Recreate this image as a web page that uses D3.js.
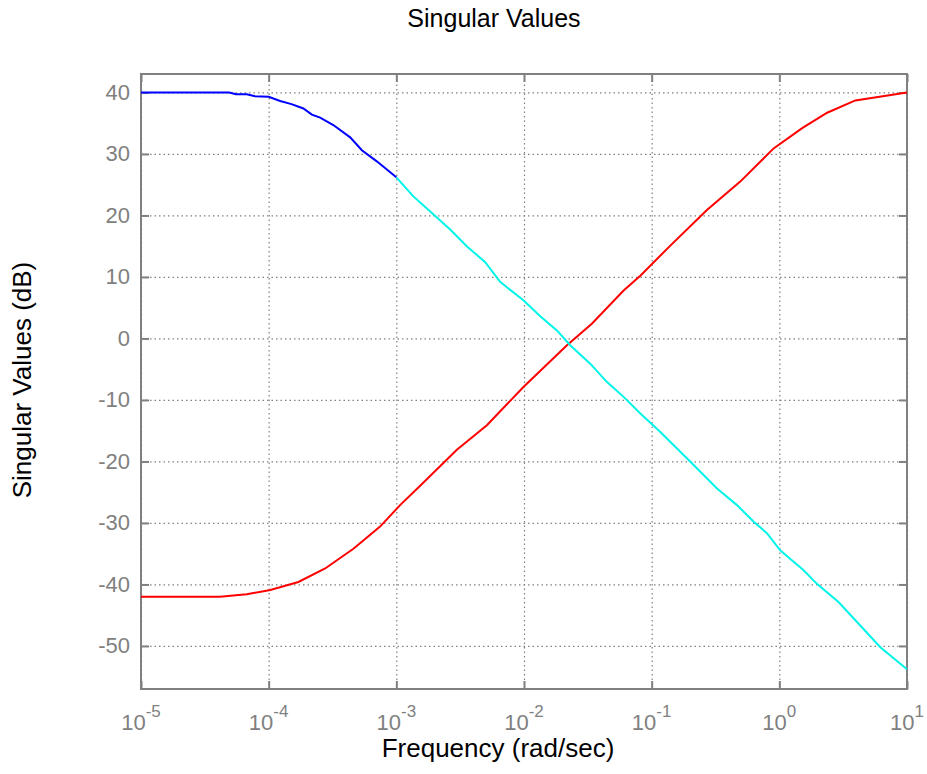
<!DOCTYPE html>
<html>
<head>
<meta charset="utf-8">
<script src="https://cdn.jsdelivr.net/npm/d3@7"></script>
<style>
  body { margin: 0; background: #fff; }
  text { font-family: "Liberation Sans", Arial, sans-serif; }
</style>
</head>
<body>
<div class="canvas-sigma"></div>
<script>
// singular value 1 (blue part, low frequencies)
const sv1LowFreq = [1e-5, 4.9e-5, 5.56e-5, 6.73e-5, 7.82e-5, 1.0e-4, 1.23e-4, 1.51e-4, 1.87e-4, 2.18e-4, 2.53e-4, 3.21e-4, 4.35e-4, 5.37e-4, 7.03e-4, 1e-3];
const sv1LowDb = [40, 40, 39.7, 39.7, 39.4, 39.3, 38.6, 38.1, 37.4, 36.4, 35.9, 34.7, 32.7, 30.6, 28.8, 26.2];

// singular value 1 (cyan part, high frequencies)
const sv1HighFreq = [1e-3, 1.36e-3, 1.9e-3, 2.64e-3, 3.56e-3, 4.97e-3, 6.5e-3, 9.9e-3, 1.34e-2, 1.81e-2, 2.3e-2, 3.3e-2, 4.47e-2, 6.03e-2, 8.15e-2, 0.117, 0.2, 0.325, 0.466, 0.63, 0.802, 1.02, 1.55, 1.97, 2.92, 6.18, 10];
const sv1HighDb = [26.2, 23.1, 20.4, 17.7, 15.0, 12.4, 9.2, 6.2, 3.6, 1.3, -1.1, -4.1, -7.1, -9.5, -12.2, -15.2, -20.0, -24.4, -27.1, -29.8, -31.7, -34.5, -37.7, -39.9, -42.9, -50.2, -53.8];

// singular value 2 (red)
const sv2Freq = [1e-5, 4.16e-5, 6.73e-5, 1.03e-4, 1.71e-4, 2.77e-4, 4.61e-4, 7.46e-4, 1.07e-3, 1.53e-3, 2.98e-3, 5.12e-3, 9.9e-3, 2.17e-2, 3.4e-2, 6.03e-2, 8.15e-2, 0.14, 0.271, 0.494, 0.902, 1.51, 2.37, 3.94, 10];
const sv2Db = [-42, -42, -41.6, -40.9, -39.6, -37.4, -34.2, -30.6, -27.1, -24.0, -18.1, -14.1, -7.9, -1.1, 2.4, 7.8, 10.2, 15.1, 20.9, 25.5, 30.9, 34.2, 36.7, 38.7, 40.0];

const xTickExps = [-5, -4, -3, -2, -1, 0, 1];
const yTicks = [-50, -40, -30, -20, -10, 0, 10, 20, 30, 40];

const drawSigma = () => {
  const margin = { top: 74, right: 20, bottom: 85, left: 141 };
  const graphWidth = 927 - margin.left - margin.right;
  const graphHeight = 774 - margin.top - margin.bottom;
  const axisColor = '#808080';

  const svg = d3
    .select('.canvas-sigma')
    .append('svg')
    .attr('width', 927)
    .attr('height', 774);

  const graph = svg.append('g').attr('transform', `translate(${margin.left}, ${margin.top})`);

  const x = d3.scaleLog().domain([1e-5, 10]).range([0, graphWidth]);
  const y = d3.scaleLinear().domain([-57, 43]).range([graphHeight, 0]);
  const xTicks = xTickExps.map(e => Math.pow(10, e));

  // dotted grid
  const gridX = graph
    .append('g')
    .attr('transform', `translate(0, ${graphHeight})`)
    .call(d3.axisBottom(x).tickValues(xTicks).tickSize(-graphHeight).tickFormat(''));
  const gridY = graph.append('g').call(d3.axisLeft(y).tickValues(yTicks).tickSize(-graphWidth).tickFormat(''));
  [gridX, gridY].forEach(g => {
    g.select('.domain').remove();
    g.selectAll('line').attr('stroke', axisColor).attr('stroke-width', 1.2).attr('stroke-dasharray', '1.5,3');
  });

  // inner tick marks on all four sides
  const tickLen = 8;
  const bottomAxis = graph
    .append('g')
    .attr('transform', `translate(0, ${graphHeight})`)
    .call(d3.axisBottom(x).tickValues(xTicks).tickSize(-tickLen).tickFormat(''));
  const topAxis = graph.append('g').call(d3.axisTop(x).tickValues(xTicks).tickSize(-tickLen).tickFormat(''));
  const rightAxis = graph
    .append('g')
    .attr('transform', `translate(${graphWidth}, 0)`)
    .call(d3.axisRight(y).tickValues(yTicks).tickSize(-tickLen).tickFormat(''));
  const leftAxis = graph
    .append('g')
    .call(d3.axisLeft(y).tickValues(yTicks).tickSize(-tickLen).tickPadding(11).tickFormat(d => String(d)));
  [bottomAxis, topAxis, rightAxis, leftAxis].forEach(g => {
    g.select('.domain').remove();
    g.selectAll('line').attr('stroke', axisColor).attr('stroke-width', 2);
  });
  leftAxis.selectAll('text').attr('fill', axisColor).style('font-size', '22px').style('font-family', '"Liberation Sans", Arial, sans-serif');

  // x tick labels as 10^n
  const xLabels = graph
    .selectAll('.xlab')
    .data(xTickExps)
    .enter()
    .append('text')
    .attr('class', 'xlab')
    .attr('x', d => x(Math.pow(10, d)))
    .attr('y', graphHeight + 41)
    .attr('text-anchor', 'middle')
    .attr('fill', axisColor)
    .style('font-size', '22px');
  xLabels.append('tspan').text('10');
  xLabels
    .append('tspan')
    .attr('dy', -13)
    .style('font-size', '17px')
    .text(d => String(d));

  // frame
  graph
    .append('rect')
    .attr('width', graphWidth)
    .attr('height', graphHeight)
    .attr('fill', 'none')
    .attr('stroke', axisColor)
    .attr('stroke-width', 2);

  const line = d3
    .line()
    .x(d => x(d[0]))
    .y(d => y(d[1]));

  const series = [
    { freq: sv2Freq, db: sv2Db, color: '#ff0000' },
    { freq: sv1HighFreq, db: sv1HighDb, color: '#00f5e8' },
    { freq: sv1LowFreq, db: sv1LowDb, color: '#0000ff' }
  ];
  series.forEach(s => {
    graph
      .append('path')
      .datum(d3.zip(s.freq, s.db))
      .attr('fill', 'none')
      .attr('stroke', s.color)
      .attr('stroke-width', 2)
      .attr('d', line);
  });

  // title and labels
  svg
    .append('text')
    .attr('x', 494)
    .attr('y', 27)
    .attr('text-anchor', 'middle')
    .style('font-size', '25px')
    .text('Singular Values');

  svg
    .append('text')
    .attr('x', 498)
    .attr('y', 757)
    .attr('text-anchor', 'middle')
    .style('font-size', '26px')
    .text('Frequency (rad/sec)');

  svg
    .append('text')
    .attr('transform', 'translate(31, 380) rotate(-90)')
    .attr('text-anchor', 'middle')
    .style('font-size', '26px')
    .text('Singular Values (dB)');
};

drawSigma();
</script>
</body>
</html>
